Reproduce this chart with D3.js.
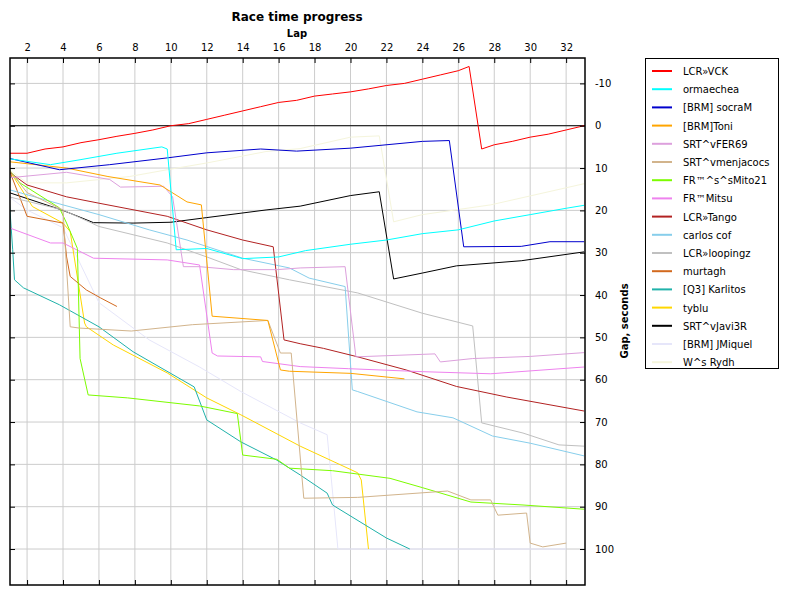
<!DOCTYPE html>
<html><head><meta charset="utf-8">
<script src="https://cdn.jsdelivr.net/npm/d3@7"></script>
<style>body{margin:0;background:#fff}text{font-family:"DejaVu Sans",Verdana,sans-serif}</style>
</head><body><svg id="c" width="800" height="600"></svg>
<script>
const names=["LCR»VCK","ormaechea","[BRM] socraM","[BRM]Toni","SRT^vFER69","SRT^vmenjacocs","FR™^s^sMito21","FR™Mitsu","LCR»Tango","carlos cof","LCR»loopingz","murtagh","[Q3] Karlitos","tyblu","SRT^vJavi3R","[BRM] JMiquel","W^s Rydh"];
const colors=["#ff0000","#00ffff","#0000cd","#ffa500","#dda0dd","#d2b48c","#7cfc00","#ee82ee","#b22222","#87ceeb","#c0c0c0","#d2691e","#20b2aa","#ffd700","#000000","#e6e6fa","#f5f5dc"];
const vck=[[1,6.5],[2,6.5],[3,5.5],[4,5],[5,4],[6,3.3],[7,2.5],[8,1.8],[9,1],[10,0],[11,-0.5],[12,-1.5],[13,-2.5],[14,-3.5],[15,-4.5],[16,-5.5],[17,-6],[18,-7],[19,-7.5],[20,-8],[21,-8.7],[22,-9.5],[23,-10],[24,-11],[25,-12],[26,-13],[26.6,-14],[27.3,5.5],[28,4.5],[29,3.7],[30,2.7],[31,2],[32,1],[33,0]];
const orma=[[1,7.8],[3.3,9.2],[5,8],[7,6.5],[9.5,5],[9.8,5.5],[10.3,29.3],[12,29],[14,31.4],[16,31],[17.5,29.5],[20,28],[22,27],[24,25.5],[26,24.6],[28,22.5],[30,21],[32,19.5],[33,18.8]];
const socram=[[1,7.7],[3.8,10.4],[6.6,9.2],[9.8,7.6],[12,6.4],[15,5.5],[17,6],[20,5.3],[24,3.7],[25.5,3.5],[26.3,28.6],[29.5,28.5],[31.1,27.4],[33,27.4]];
const toni=[[1,8.5],[4.2,10],[6.5,12],[9.4,14],[10.9,18],[11.7,18.7],[12.3,45],[15.4,46],[16.1,57.7],[16.6,58],[20,58.5],[23,59.8]];
const fer=[[1,12.3],[4.2,11],[6.6,12.7],[7.2,14.5],[9.6,14.3],[10.1,16.8],[10.7,33.3],[11.6,33.3],[13.5,34],[15.9,34],[17.2,33.6],[19.7,33.3],[20.3,54.6],[24.7,53.9],[25,55.8],[26.8,55],[30,54.5],[33,53.6]];
const menja=[[1,10.4],[2,15.8],[4,19.9],[4.4,47.5],[4.9,47.8],[7.8,48.5],[11.2,47],[15.4,46],[16.1,53.7],[16.7,53.7],[17.4,88],[20.4,87.8],[25.4,86.3],[26.7,88.4],[27.8,88.4],[28.2,92],[29.8,91.5],[30,98.6],[30.7,99.5],[32,98.6]];
const mito=[[1,10.4],[1.6,13.5],[3.8,19.4],[4.2,23],[4.8,29],[4.95,55],[5.4,63.6],[7.6,64.3],[11.6,66.2],[13.7,68],[14,77.8],[15.9,78.8],[16.6,80.9],[19,81.5],[22.2,83.3],[24,85.5],[26.7,88.9],[29.6,89.6],[33,90.6]];
const mitsu=[[1,24.1],[3.3,27.7],[4,27.7],[5.7,31.3],[9.8,31.7],[11.6,32.9],[12.3,53.7],[12.6,54.4],[15,54.6],[15.1,55.7],[17.2,56.9],[19.9,57.4],[24,58.1],[27.8,58.6],[33,57]];
const tango=[[1,10.9],[2,14],[4.2,16.8],[6,18.3],[9.8,21.4],[12,24.6],[14,27],[15.7,28.6],[16.3,50.6],[17.2,51.5],[18.5,52.6],[20.4,54.6],[23.1,57.7],[25.9,61.6],[28.7,64.1],[33,67.4]];
const carlos=[[1,15.1],[4,18.7],[6,21],[8.8,24.6],[10.9,27],[14,31.3],[16.6,33.6],[17.7,36],[19.7,38],[20.1,62.4],[20.4,62.8],[23.7,67.6],[25.7,69],[27.9,73.3],[30,75],[33,78]];
const loop=[[1,16.8],[4,19.9],[6,23.8],[9.8,27.7],[12,31],[13.9,34],[16.6,36.4],[20.4,39.5],[24,44.3],[26.8,47.3],[27.3,70.2],[29.6,72.6],[31.6,75.4],[33,75.7]];
const murtagh=[[1,10.4],[2,21.4],[4,23],[4.2,31],[4.4,35.6],[5.3,38.8],[6.1,40.7],[7,42.7]];
const karl=[[1,17],[1.2,29.3],[1.3,36.4],[1.8,38.3],[3.8,42.3],[6,47.5],[7.9,53.4],[11.3,61.7],[12,69.5],[13.9,74.7],[15.9,79],[17.2,82.5],[18.7,86.8],[19,89.6],[22,97.4],[23.3,100]];
const tyblu=[[1,10.4],[2.3,19.1],[4,23],[4.4,25],[5.2,46.6],[5.3,47.5],[6.8,51.8],[9.8,58.4],[12,64.3],[13.9,68.3],[17.2,75.7],[20.4,82],[20.6,83.7],[21,100]];
const javi=[[1,15.8],[4,20],[5.7,22.9],[7.9,23],[10,22.8],[12,21.7],[15.3,19.9],[17.2,19],[20,16.5],[21.6,15.6],[22.4,36.2],[24,34.8],[25.9,33.1],[29.5,31.9],[33,29.8]];
const jmiq=[[1,16.8],[2,19.9],[4,24.1],[6,41.8],[8.8,50.6],[11.6,57],[13.9,62.8],[17.2,70.2],[18.7,73],[19.3,100],[32,100]];
const rydh=[[1,10.4],[2,13.5],[4.2,13.5],[7.7,12],[9.8,10.4],[12,8.8],[15.3,6.1],[17.2,5.4],[20,2.7],[21.6,2.4],[22.4,22.7],[24,21],[27.8,18.7],[33,13.7]];
const series=[vck,orma,socram,toni,fer,menja,mito,mitsu,tango,carlos,loop,murtagh,karl,tyblu,javi,jmiq,rydh];
const xTicks=d3.range(2,33,2), yTicks=d3.range(-10,101,10);

const svg=d3.select("#c");
const L=10,R=585,T=58,B=585;
const x=d3.scaleLinear().domain([1.05,33.05]).range([L,R]);
const y=d3.scaleLinear().domain([-16,108.5]).range([T,B]);
const g=svg.append("g");
g.selectAll(".gx").data(xTicks).join("line").attr("x1",d=>x(d)).attr("x2",d=>x(d)).attr("y1",T).attr("y2",B).attr("stroke","#cccccc");
g.selectAll(".gy").data(yTicks).join("line").attr("y1",d=>y(d)).attr("y2",d=>y(d)).attr("x1",L).attr("x2",R).attr("stroke","#cccccc");
g.append("line").attr("x1",L).attr("x2",R).attr("y1",y(0)).attr("y2",y(0)).attr("stroke","#000");
const line=d3.line().x(d=>x(d[0])).y(d=>y(d[1]));
svg.append("clipPath").attr("id","cp").append("rect").attr("x",L).attr("y",T).attr("width",R-L).attr("height",B-T);
const sg=svg.append("g").attr("clip-path","url(#cp)");
series.slice().reverse().forEach((s,i)=>{const k=series.length-1-i;
 sg.append("path").attr("d",line(s)).attr("fill","none").attr("stroke",colors[k]).attr("stroke-width",1);});
svg.append("rect").attr("x",L).attr("y",T).attr("width",R-L).attr("height",B-T).attr("fill","none").attr("stroke","#000").attr("stroke-width",1.5);
svg.append("g").attr("transform",`translate(0,${T})`).call(d3.axisTop(x).tickValues(xTicks).tickSize(-5).tickPadding(7).tickFormat(d=>String(d)))
 .call(a=>{a.select(".domain").remove();a.selectAll("text").attr("font-size",10);});
svg.append("g").attr("transform",`translate(0,${B})`).call(d3.axisBottom(x).tickValues(xTicks).tickSize(-5).tickFormat(""))
 .call(a=>a.select(".domain").remove());
svg.append("g").attr("transform",`translate(${R},0)`).call(d3.axisRight(y).tickValues(yTicks).tickSize(-5).tickPadding(10).tickFormat(d=>String(d)))
 .call(a=>{a.select(".domain").remove();a.selectAll("text").attr("font-size",10);});
svg.append("g").attr("transform",`translate(${L},0)`).call(d3.axisLeft(y).tickValues(yTicks).tickSize(-5).tickFormat(""))
 .call(a=>a.select(".domain").remove());
svg.append("text").attr("x",297).attr("y",21).attr("text-anchor","middle").attr("font-size",12).attr("font-weight","bold").text("Race time progress");
svg.append("text").attr("x",297).attr("y",37).attr("text-anchor","middle").attr("font-size",10).attr("font-weight","bold").text("Lap");
svg.append("text").attr("transform","translate(628,321) rotate(-90)").attr("text-anchor","middle").attr("font-size",10).attr("font-weight","bold").text("Gap, seconds");
const lg=svg.append("g");
lg.append("rect").attr("x",645.5).attr("y",58.5).attr("width",133).attr("height",310).attr("fill","#fff").attr("stroke","#000");
names.forEach((n,i)=>{const yy=71+i*18.2;
 lg.append("line").attr("x1",652).attr("x2",672).attr("y1",yy).attr("y2",yy).attr("stroke",colors[i]).attr("stroke-width",2);
 lg.append("text").attr("x",683).attr("y",yy+4).attr("font-size",10).text(n);});
</script></body></html>
